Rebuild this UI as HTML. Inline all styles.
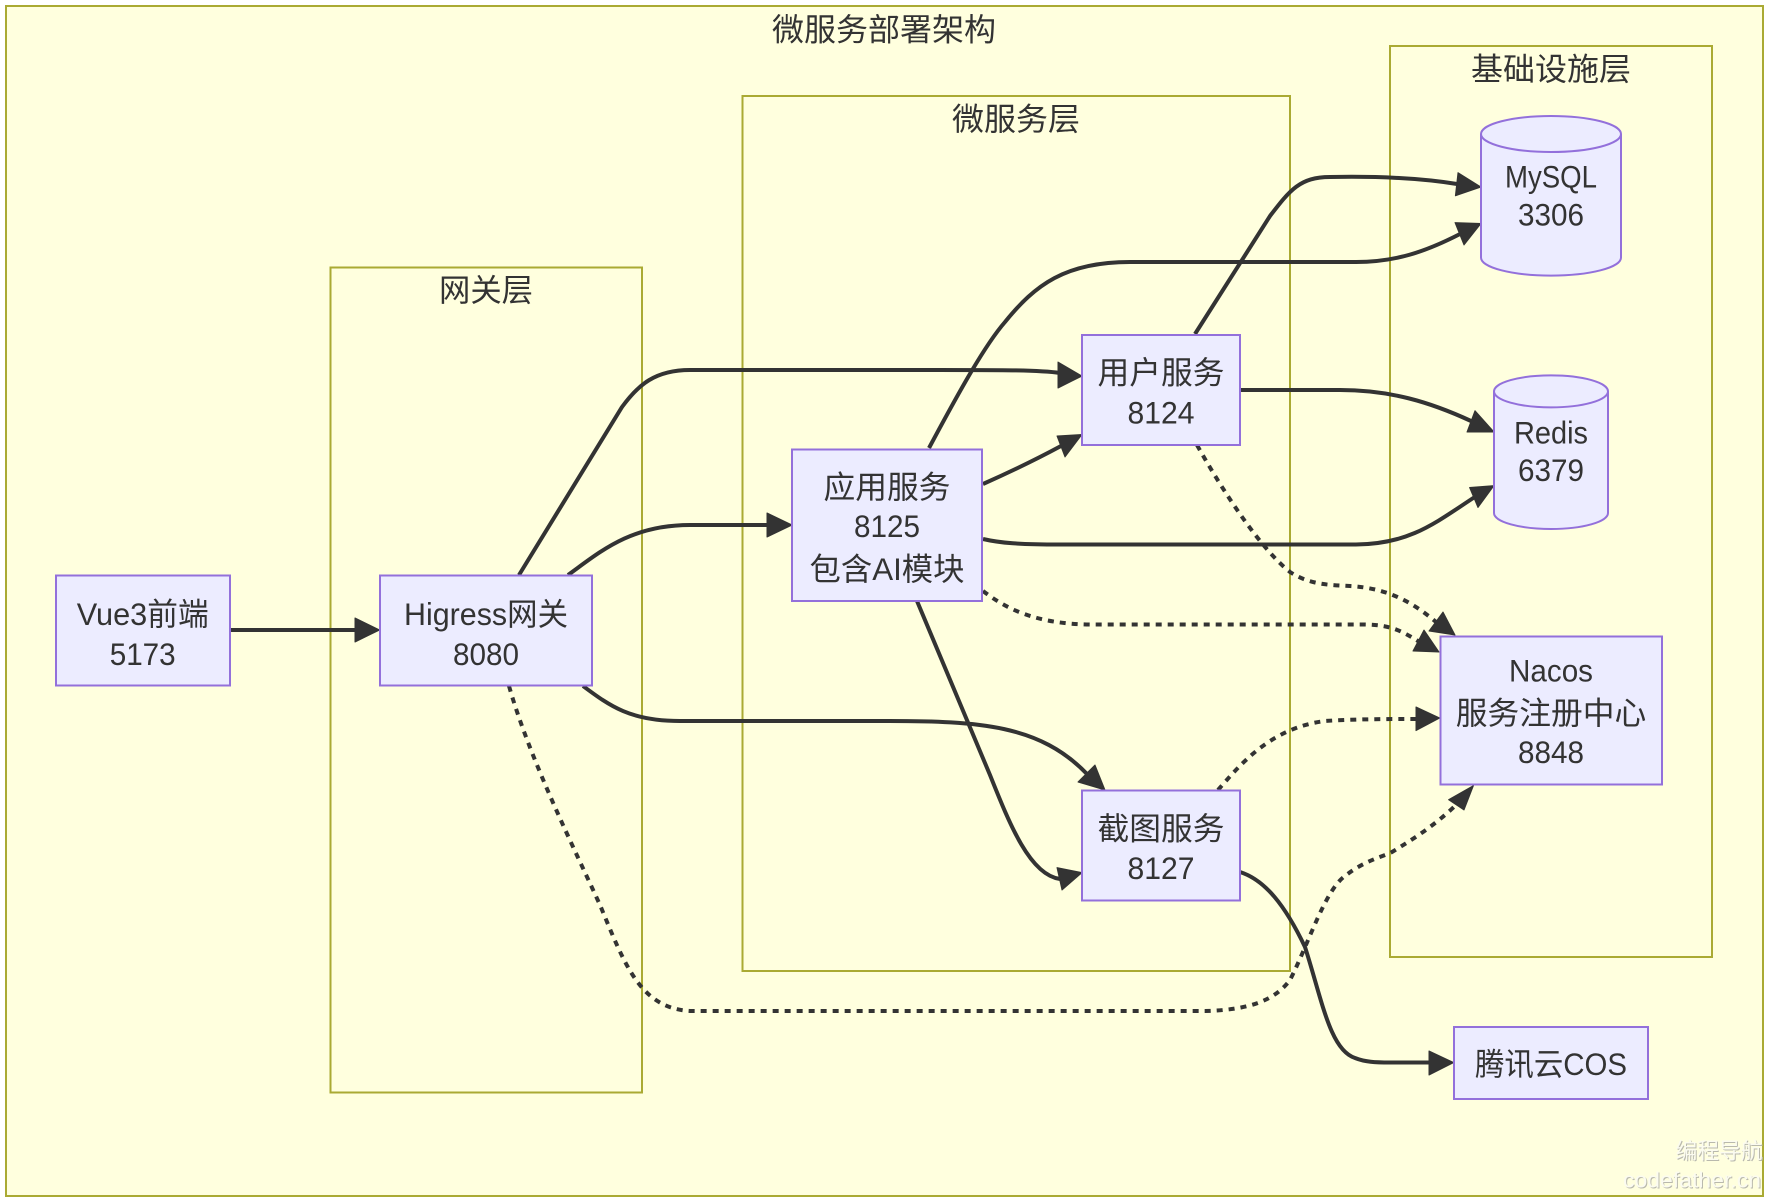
<!DOCTYPE html>
<html lang="zh"><head><meta charset="utf-8"><title>微服务部署架构</title>
<style>
html,body{margin:0;padding:0;background:#fff;width:1774px;height:1204px;overflow:hidden}
svg{display:block}
text{font-family:"Liberation Sans","Noto Sans CJK SC",sans-serif;font-size:31.5px;fill:#333;text-anchor:middle;dominant-baseline:central}
.c{fill:#ffffde;stroke:#aaaa33;stroke-width:2}
.n{fill:#ececff;stroke:#9370db;stroke-width:2}
.e{fill:none;stroke:#333;stroke-width:4}
.d{fill:none;stroke:#333;stroke-width:4;stroke-dasharray:6 6}
.a{fill:#333;stroke:#333;stroke-width:1;stroke-linejoin:round}
</style></head><body>
<svg width="1774" height="1204" viewBox="0 0 1774 1204" xmlns="http://www.w3.org/2000/svg">
<rect class="c" x="6" y="6" width="1757" height="1190"/>
<rect class="c" x="330.5" y="267.5" width="311.5" height="825"/>
<rect class="c" x="742.5" y="96" width="547.5" height="875"/>
<rect class="c" x="1390" y="46" width="322" height="911"/>

<text x="884" y="29.5" textLength="224" lengthAdjust="spacingAndGlyphs">微服务部署架构</text>
<text x="486" y="290" textLength="94" lengthAdjust="spacingAndGlyphs">网关层</text>
<text x="1016" y="119" textLength="128" lengthAdjust="spacingAndGlyphs">微服务层</text>
<text x="1551" y="69" textLength="160" lengthAdjust="spacingAndGlyphs">基础设施层</text>

<path class="e" d="M230 630 L356 630"/>
<path class="e" d="M519 575 L622 407 C638 385 655 370 690 370 L940 370 C1000 370 1040 370 1060 373"/>
<path class="e" d="M568 575 C600 552 630 525 690 525 L768 525"/>
<path class="e" d="M583 686 C610 706 630 721 680 721 L887 721 C980 721 1040 725 1087 774"/>
<path class="e" d="M983 484 C1010 472 1035 460 1061 446"/>
<path class="e" d="M929 448 C960 390 985 345 1005 322 C1035 285 1065 262 1130 262 L1356 262 C1395 262 1425 252 1460 234"/>
<path class="e" d="M1195 334 L1270 216 C1290 190 1300 177 1330 177 C1380 176 1420 178 1457 184"/>
<path class="e" d="M1240 390 L1340 390 C1390 390 1430 402 1471 421"/>
<path class="e" d="M983 539 C1000 543 1020 544.5 1060 544.5 L1356 544.5 C1410 544 1435 523 1474 497.5"/>
<path class="e" d="M917 601 L990 775 C1010 825 1030 875 1060 879"/>
<path class="e" d="M1240 872 C1265 880 1285 905 1305 947 C1322 1000 1330 1050 1355 1058 C1365 1062 1375 1062.5 1390 1062.5 L1430 1062.5"/>

<path class="d" d="M509 686 C530 760 575 850 600 905 C625 965 640 1008 690 1011 L1205 1011 C1250 1010 1275 1000 1290 980 C1308 945 1325 890 1345 876 C1365 860 1385 856 1392 852 C1415 838 1435 825 1456 805"/>
<path class="d" d="M1197 445 C1225 495 1262 550 1290 572 C1310 585 1330 585 1350 586 C1385 588 1410 600 1436 622"/>
<path class="d" d="M983 591 C1005 608 1035 624 1090 624.5 L1365 624.5 C1390 625 1400 630 1418 641"/>
<path class="d" d="M1218 790 C1240 765 1270 728 1325 721 C1355 719 1390 719 1416 719"/>

<polygon class="a" points="379.5,630 355,618 355,642"/>
<polygon class="a" points="792,525 767,513 767,537"/>
<polygon class="a" points="1105,790 1078,782 1095,765"/>
<polygon class="a" points="1082,434.5 1057,436 1065,457"/>
<polygon class="a" points="1481,223.5 1455,222.6 1464,245"/>
<polygon class="a" points="1481,187 1458,172.7 1455.4,195.8"/>
<polygon class="a" points="1494,432 1475,410.7 1467,432"/>
<polygon class="a" points="1494,485.6 1469.6,487.5 1478,507.5"/>
<polygon class="a" points="1082,872.6 1057,867.6 1062,890"/>
<polygon class="a" points="1453.7,1062.6 1429,1051 1429,1075"/>
<polygon class="a" points="1473.5,785.5 1448.6,799.7 1464,810"/>
<polygon class="a" points="1455,635 1443,612 1429,631"/>
<polygon class="a" points="1439,652 1424,630 1413,651"/>
<polygon class="a" points="1439.6,718 1416,707 1416,730.6"/>
<polygon class="a" points="1082,376 1058,362 1058,388"/>

<rect class="n" x="56" y="575.5" width="174" height="110"/>
<text x="142.7" y="614" textLength="132" lengthAdjust="spacingAndGlyphs">Vue3前端</text>
<text x="142.7" y="654" textLength="66" lengthAdjust="spacingAndGlyphs">5173</text>

<rect class="n" x="380" y="575.5" width="212" height="110"/>
<text x="486" y="614" textLength="164" lengthAdjust="spacingAndGlyphs">Higress网关</text>
<text x="486" y="654" textLength="66" lengthAdjust="spacingAndGlyphs">8080</text>

<rect class="n" x="792" y="449.5" width="190" height="151.5"/>
<text x="887" y="487" textLength="127" lengthAdjust="spacingAndGlyphs">应用服务</text>
<text x="887" y="526" textLength="66" lengthAdjust="spacingAndGlyphs">8125</text>
<text x="887" y="569" textLength="155" lengthAdjust="spacingAndGlyphs">包含AI模块</text>

<rect class="n" x="1082" y="335" width="158" height="110"/>
<text x="1161" y="372.5" textLength="127" lengthAdjust="spacingAndGlyphs">用户服务</text>
<text x="1161" y="412.5" textLength="67" lengthAdjust="spacingAndGlyphs">8124</text>

<rect class="n" x="1082" y="790.5" width="158" height="110"/>
<text x="1161" y="828.5" textLength="127" lengthAdjust="spacingAndGlyphs">截图服务</text>
<text x="1161" y="868" textLength="67" lengthAdjust="spacingAndGlyphs">8127</text>

<rect class="n" x="1440.5" y="636.5" width="221.5" height="148"/>
<text x="1551" y="670.5" textLength="84" lengthAdjust="spacingAndGlyphs">Nacos</text>
<text x="1551" y="713" textLength="190.5" lengthAdjust="spacingAndGlyphs">服务注册中心</text>
<text x="1551" y="752" textLength="66" lengthAdjust="spacingAndGlyphs">8848</text>

<rect class="n" x="1454" y="1027" width="194" height="72"/>
<text x="1551" y="1064" textLength="152" lengthAdjust="spacingAndGlyphs">腾讯云COS</text>

<path class="n" d="M1481 134 a70 18 0 0 0 140 0 a70 18 0 0 0 -140 0 l0 123.6 a70 18 0 0 0 140 0 l0 -123.6"/>
<text x="1551" y="176.5" textLength="92" lengthAdjust="spacingAndGlyphs">MySQL</text>
<text x="1551" y="214.5" textLength="66" lengthAdjust="spacingAndGlyphs">3306</text>

<path class="n" d="M1494 391.4 a57 16 0 0 0 114 0 a57 16 0 0 0 -114 0 l0 121.6 a57 16 0 0 0 114 0 l0 -121.6"/>
<text x="1551" y="432.5" textLength="74" lengthAdjust="spacingAndGlyphs">Redis</text>
<text x="1551" y="470" textLength="66" lengthAdjust="spacingAndGlyphs">6379</text>

<g>
<text x="1720" y="1152" textLength="87" lengthAdjust="spacingAndGlyphs" style="font-size:22px;fill:#b9b9ad">编程导航</text>
<text x="1719" y="1151" textLength="87" lengthAdjust="spacingAndGlyphs" style="font-size:22px;fill:#fbfbf0">编程导航</text>
<text x="1693" y="1181" textLength="138" lengthAdjust="spacingAndGlyphs" style="font-size:22px;fill:#b9b9ad">codefather.cn</text>
<text x="1692" y="1180" textLength="138" lengthAdjust="spacingAndGlyphs" style="font-size:22px;fill:#fbfbf0">codefather.cn</text>
</g>
</svg>
</body></html>
